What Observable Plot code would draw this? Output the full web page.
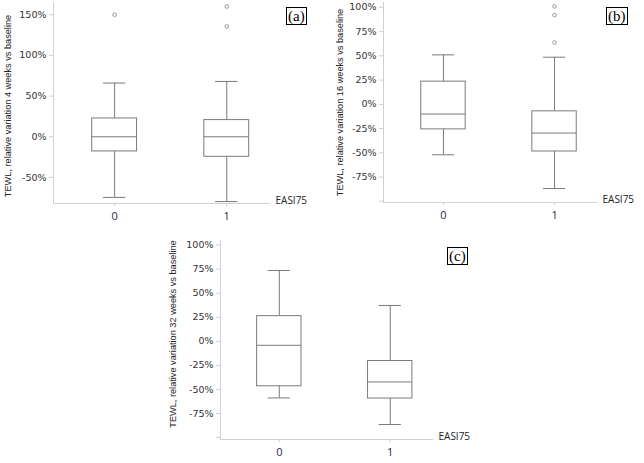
<!DOCTYPE html>
<html>
<head>
<meta charset="utf-8">
<script src="https://cdn.jsdelivr.net/npm/d3@7"></script>
<script src="https://cdn.jsdelivr.net/npm/@observablehq/plot@0.6"></script>
<style>
  html, body { margin: 0; padding: 0; background: #fff; }
  #wrap { position: relative; width: 644px; height: 463px; overflow: hidden; }
  .panel { position: absolute; }
  .tag { position: absolute; font-family: "Liberation Serif", "DejaVu Serif", serif; font-size: 15px;
         border: 1px solid #000; padding: 0 1px; line-height: 16px; color: #000; background: #fff; }
</style>
</head>
<body>
<div id="wrap"></div>
<script>
// ---- data ----
const categories = [0, 1];
const xAxisLabel = "EASI75";

// Panel (a): 4 weeks
const aLabel = "TEWL, relative variation 4 weeks vs baseline";
const aLow = [-74.5, -79.6];
const aQ1 = [-18, -24.6];
const aMedian = [0, 0];
const aQ3 = [22.5, 20.5];
const aHigh = [66, 68];
const aOutlierCat = [0, 1, 1];
const aOutlierVal = [150, 160, 135.6];
const aTicks = [-50, 0, 50, 100, 150];

// Panel (b): 16 weeks
const bLabel = "TEWL, relative variation 16 weeks vs baseline";
const bLow = [-52, -86.8];
const bQ1 = [-25.8, -48.6];
const bMedian = [-10, -29.6];
const bQ3 = [23.4, -7.2];
const bHigh = [51, 48.6];
const bOutlierCat = [1, 1, 1];
const bOutlierVal = [101, 92, 63.7];
const bTicks = [-100, -75, -50, -25, 0, 25, 50, 75, 100];

// Panel (c): 32 weeks
const cLabel = "TEWL, relative variation 32 weeks vs baseline";
const cLow = [-58.8, -86.4];
const cQ1 = [-46.7, -59.4];
const cMedian = [-4.1, -42.2];
const cQ3 = [26.2, -20.4];
const cHigh = [73.6, 37.3];
const cOutlierCat = [];
const cOutlierVal = [];
const cTicks = [-100, -75, -50, -25, 0, 25, 50, 75, 100];

// ---- drawing ----
const boxColor = "#7b7b7b";
const axisColor = "#d0d0d0";
const boxHalf = 0.2, capHalf = 0.1;

function panel(cfg) {
  const rows = categories.map((c, i) => ({
    cat: c, low: cfg.low[i], q1: cfg.q1[i], med: cfg.median[i], q3: cfg.q3[i], high: cfg.high[i]
  }));
  const outs = cfg.outCat.map((c, i) => ({cat: c, v: cfg.outVal[i]}));
  const [x0, x1] = cfg.xDomain;
  const [y0, y1] = cfg.yDomain;
  const p = Plot.plot({
    width: cfg.width, height: cfg.height,
    marginLeft: cfg.ml, marginRight: cfg.mr, marginTop: cfg.mt, marginBottom: cfg.mb,
    style: {background: "transparent", overflow: "visible"},
    x: {type: "linear", domain: cfg.xDomain},
    y: {type: "linear", domain: cfg.yDomain},
    marks: [
      Plot.ruleX([x0], {y1: y0, y2: y1, stroke: axisColor}),
      Plot.ruleY([y0], {x1: x0, x2: x1, stroke: axisColor}),
      Plot.axisY({ticks: cfg.ticks, tickFormat: d => d === -100 && cfg.hideBottom ? "" : d + "%",
        tickSize: 4, stroke: axisColor, fill: "#333", fontSize: 9.5, tickPadding: 3,
        fontFamily: "DejaVu Sans", label: null}),
      Plot.axisX({ticks: categories, tickFormat: d => String(d), tickSize: 3, stroke: axisColor,
        fill: "#1e2a3a", fontSize: 11, tickPadding: 6, fontFamily: "Open Sans", label: null}),
      Plot.text([xAxisLabel], {frameAnchor: "bottom-right", dx: 5, textAnchor: "start",
        fontFamily: "Open Sans", fontSize: 10, fill: "#222"}),
      Plot.text([cfg.label], {frameAnchor: "left", dx: -cfg.labelOffset, rotate: -90, textAnchor: "middle",
        fontFamily: "Liberation Sans", fontSize: 9.2, fill: "#222", dy: cfg.labelDy}),
      Plot.ruleX(rows, {x: "cat", y1: "q3", y2: "high", stroke: boxColor}),
      Plot.ruleX(rows, {x: "cat", y1: "low", y2: "q1", stroke: boxColor}),
      Plot.ruleY(rows, {y: "high", x1: d => d.cat - capHalf, x2: d => d.cat + capHalf, stroke: boxColor}),
      Plot.ruleY(rows, {y: "low", x1: d => d.cat - capHalf, x2: d => d.cat + capHalf, stroke: boxColor}),
      Plot.rect(rows, {x1: d => d.cat - boxHalf, x2: d => d.cat + boxHalf, y1: "q1", y2: "q3",
        fill: "white", stroke: boxColor}),
      Plot.ruleY(rows, {y: "med", x1: d => d.cat - boxHalf, x2: d => d.cat + boxHalf, stroke: boxColor}),
      Plot.dot(outs, {x: "cat", y: "v", r: 1.8, stroke: "#8a8a8a", strokeWidth: 0.9, fill: "white"})
    ]
  });
  const div = document.createElement("div");
  div.className = "panel";
  div.style.left = cfg.left + "px";
  div.style.top = cfg.top + "px";
  div.appendChild(p);
  const tag = document.createElement("div");
  tag.className = "tag";
  tag.textContent = cfg.tag;
  tag.style.left = cfg.tagX + "px";
  tag.style.top = cfg.tagY + "px";
  div.appendChild(tag);
  document.getElementById("wrap").appendChild(div);
}

panel({left: 0, top: 0, width: 320, height: 230, ml: 53, mr: 50, mt: 2, mb: 27,
  xDomain: [-0.545, 1.39], yDomain: [-82, 165], ticks: aTicks,
  low: aLow, q1: aQ1, median: aMedian, q3: aQ3, high: aHigh, outCat: aOutlierCat, outVal: aOutlierVal,
  label: aLabel, labelOffset: 45, labelDy: 3, tag: "(a)", tagX: 286, tagY: 7});

panel({left: 320, top: 0, width: 324, height: 230, ml: 63, mr: 47, mt: 2, mb: 28,
  xDomain: [-0.54, 1.387], yDomain: [-101.2, 105], ticks: bTicks, hideBottom: true,
  low: bLow, q1: bQ1, median: bMedian, q3: bQ3, high: bHigh, outCat: bOutlierCat, outVal: bOutlierVal,
  label: bLabel, labelOffset: 43, labelDy: 0, tag: "(b)", tagX: 286, tagY: 7});

panel({left: 160, top: 230, width: 320, height: 233, ml: 60, mr: 47, mt: 10, mb: 24,
  xDomain: [-0.53, 1.39], yDomain: [-102, 104.8], ticks: cTicks, hideBottom: true,
  low: cLow, q1: cQ1, median: cMedian, q3: cQ3, high: cHigh, outCat: cOutlierCat, outVal: cOutlierVal,
  label: cLabel, labelOffset: 47, labelDy: -6, tag: "(c)", tagX: 287, tagY: 17});
</script>
</body>
</html>
